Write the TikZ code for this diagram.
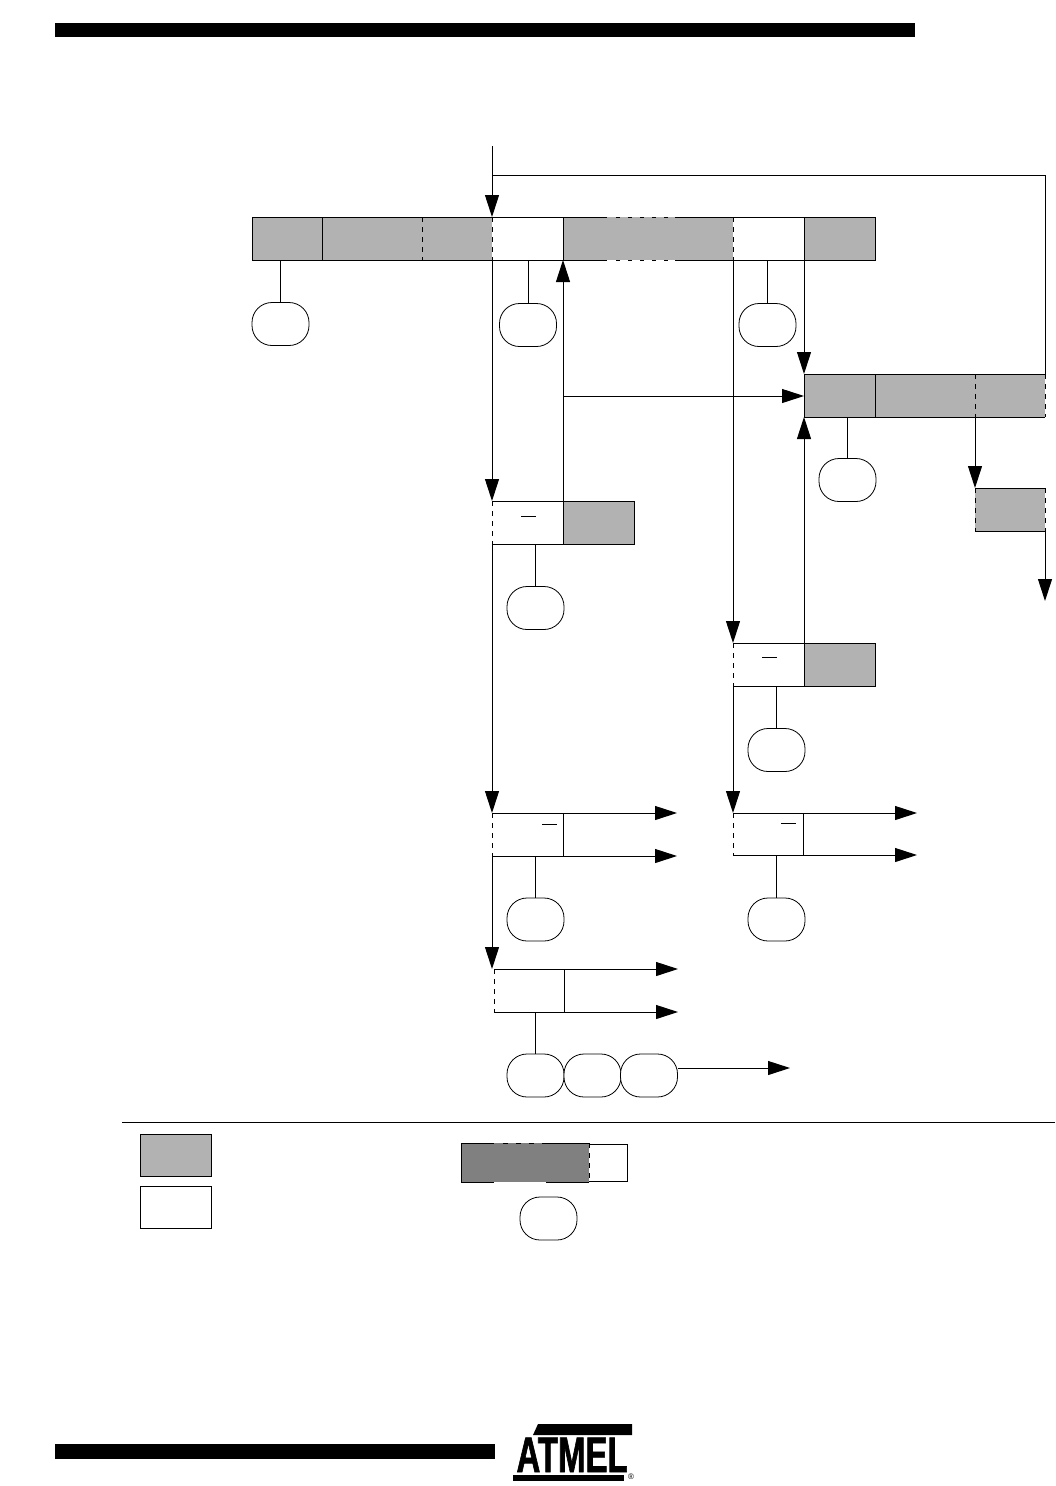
\documentclass[tikz,border=0pt]{standalone}
\usepackage{fontspec}
\setmainfont{Liberation Sans}
\newfontfamily\logofont[FakeBold=1.2,FakeStretch=0.66]{Liberation Sans Bold}
\usetikzlibrary{arrows.meta, positioning}

\definecolor{cellgray}{gray}{0.70}
\definecolor{keygray}{gray}{0.50}

\begin{document}
\begin{tikzpicture}[x=1pt,y=-1pt,line width=1pt,>={Triangle[length=22pt,width=14pt]},
        cell/.style={rectangle,inner sep=0pt,outer sep=0pt,anchor=north west,minimum height=43pt},
        grey/.style={cell,fill=cellgray},
        blank/.style={cell,fill=white},
        field/.style={draw,line width=1pt},
        dashedge/.style={dash pattern=on 5pt off 5pt},
        oval/.style={draw,line width=0.8pt,rectangle,rounded corners=20pt,inner sep=0pt,outer sep=0pt,
            minimum width=57pt,minimum height=43pt,fill=white}]

      \useasboundingbox (0,0) rectangle (1055,1486);

      % page bars
      \node[cell,fill=black,minimum width=860pt,minimum height=14pt] (headbar) at (55,23) {};
      \node[cell,fill=black,minimum width=440pt,minimum height=15pt] (footbar) at (55,1444) {};

      % first row
      \node[grey,field,minimum width=70pt]  (pre1)  at (252,217) {};
      \node[grey,minimum width=100pt]       (pre2)  at (322,217) {};
      \node[grey,minimum width=70pt]        (pre3)  at (422,217) {};
      \node[blank,minimum width=71pt]       (mid1)  at (492,217) {};
      \node[grey,minimum width=170pt]       (mid2)  at (563,217) {};
      \node[blank,minimum width=71pt]       (mid3)  at (733,217) {};
      \node[grey,field,minimum width=71pt]  (post1) at (804,217) {};
      \draw (pre2.south east) -- (pre2.south west) -- (pre2.north west) -- (pre2.north east);
      \draw (pre3.north west) -- (pre3.north east) (pre3.south west) -- (pre3.south east);
      \draw[dashedge] (pre2.north east) -- (pre2.south east);
      \draw[dashedge] (pre3.north east) -- (pre3.south east);
      \draw (mid1.north west) -- (mid1.north east) -- (mid1.south east) -- (mid1.south west);
      \draw (mid3.north west) -- (mid3.north east) -- (mid3.south east) -- (mid3.south west);
      \draw[dashedge] (mid2.north east) -- (mid2.south east);
      \draw (mid2.north west) -- ++(44,0) (mid2.north east) -- ++(-58,0);
      \draw (mid2.south west) -- ++(44,0) (mid2.south east) -- ++(-58,0);
      \draw[dash pattern=on 4pt off 8pt] ([xshift=53pt]mid2.north west) -- ++(52,0);
      \draw[dash pattern=on 4pt off 8pt] ([xshift=53pt]mid2.south west) -- ++(52,0);

      % second row
      \node[grey,field,minimum width=71pt]  (next1) at (804,374) {};
      \node[grey,minimum width=100pt]       (next2) at (875,374) {};
      \node[grey,minimum width=70pt]        (next3) at (975,374) {};
      \draw (next2.north east) -- (next2.north west) -- (next2.south west) -- (next2.south east);
      \draw (next3.north west) -- (next3.north east) (next3.south west) -- (next3.south east);
      \draw[dashedge] (next2.north east) -- (next2.south east);
      \draw[dashedge] (next3.north east) -- (next3.south east);

      \node[grey,minimum width=70pt]        (tail)  at (975,488) {};
      \draw (tail.north west) -- (tail.north east) (tail.south west) -- (tail.south east);
      \draw[dashedge] (tail.north west) -- (tail.south west) (tail.north east) -- (tail.south east);

      % left column
      \node[blank,minimum width=71pt]       (stepa) at (492,501) {};
      \node[grey,field,minimum width=71pt]  (stepb) at (563,501) {};
      \draw (stepa.north west) -- (stepa.north east) (stepa.south west) -- (stepa.south east);
      \draw[dashedge] (stepa.north west) -- (stepa.south west);
      \draw (521,516) -- (536,516);

      \node[blank,minimum width=71pt]       (outa)  at (492,813) {};
      \draw (outa.north west) -- (outa.north east) -- (outa.south east) -- (outa.south west);
      \draw[dashedge] (outa.north west) -- (outa.south west);
      \draw (542,824) -- (557,824);

      \node[blank,minimum width=70pt]       (outc)  at (494,969) {};
      \draw (outc.north west) -- (outc.north east) -- (outc.south east) -- (outc.south west);
      \draw[dashedge] (outc.north west) -- (outc.south west);

      % right column
      \node[blank,minimum width=71pt]       (stepc) at (733,643) {};
      \node[grey,field,minimum width=71pt]  (stepd) at (804,643) {};
      \draw (stepc.north west) -- (stepc.north east) (stepc.south west) -- (stepc.south east);
      \draw[dashedge] (stepc.north west) -- (stepc.south west);
      \draw (762,657) -- (777,657);

      \node[blank,minimum width=70pt,minimum height=42pt] (outb) at (733,813) {};
      \draw (outb.north west) -- (outb.north east) -- (outb.south east) -- (outb.south west);
      \draw[dashedge] (outb.north west) -- (outb.south west);
      \draw (781,823) -- (796,823);

      % ovals
      \node[oval] (o1)  at (280.5,324)  {};
      \node[oval] (o2)  at (528,325)    {};
      \node[oval] (o3)  at (767.5,325)  {};
      \node[oval] (o4)  at (847.5,480)  {};
      \node[oval] (o5)  at (535.5,608)  {};
      \node[oval] (o6)  at (776.5,750)  {};
      \node[oval] (o7)  at (535.5,919.5) {};
      \node[oval] (o8)  at (776.5,919.5) {};
      \node[oval] (o9)  at (535.5,1075.5) {};
      \node[oval] (o10) at (592.5,1075.5) {};
      \node[oval] (o11) at (649,1075.5) {};

      % free ends
      \coordinate (start) at (492,146);
      \coordinate (turn)  at (1045,175);
      \coordinate (fork)  at (492,175);
      \coordinate (tap)   at (563,396);
      \coordinate (out1)  at (677,813);
      \coordinate (out2)  at (677,856);
      \coordinate (out3)  at (917,813);
      \coordinate (out4)  at (917,855);
      \coordinate (out5)  at (678,969);
      \coordinate (out6)  at (678,1012);
      \coordinate (out7)  at (790,1068);
      \coordinate (out8)  at (1045,601);

      % stems
      \draw (pre1.south -| o1.north) -- (o1.north);
      \draw (mid1.south -| o2.north) -- (o2.north);
      \draw (mid3.south -| o3.north) -- (o3.north);
      \draw (next1.south -| o4.north) -- (o4.north);
      \draw (stepa.south -| o5.north) -- (o5.north);
      \draw (stepc.south -| o6.north) -- (o6.north);
      \draw (outa.south -| o7.north) -- (o7.north);
      \draw (outb.south -| o8.north) -- (o8.north);
      \draw (outc.south -| o9.north) -- (o9.north);

      % flow
      \path[->] (start) edge (mid1.north west)
                (mid1.south west) edge (stepa.north west)
                (stepa.south west) edge (outa.north west)
                (outa.south west) edge (outa.south west |- outc.north)
                (stepb.north west) edge (mid2.south west)
                (tap) edge (tap -| next1.west)
                (post1.south west) edge (next1.north west)
                (mid3.south west) edge (stepc.north west)
                (stepc.south west) edge (outb.north west)
                (stepd.north west) edge (next1.south west)
                (next3.south west) edge (tail.north west)
                (tail.south east) edge (out8)
                (outa.north east) edge (out1)
                (outa.south east) edge (out2)
                (outb.north east) edge (out3)
                (outb.south east) edge (out4)
                (outc.north east) edge (out5)
                (outc.south east) edge (out6)
                (o11.east |- out7) edge (out7);
      \draw (fork) -- (turn) -- (next3.north east);

      % key
      \draw (122,1122) -- (1055,1122);
      \node[grey,field,minimum width=71pt,minimum height=42pt]  (keygrey)  at (140,1134) {};
      \node[blank,field,minimum width=71pt,minimum height=42pt] (keyblank) at (140,1186) {};
      \node[cell,fill=keygray,minimum width=128pt,minimum height=39pt] (keydark) at (461,1143) {};
      \node[blank,minimum width=38pt,minimum height=37pt] (keyrest) at (589,1144) {};
      \draw (keydark.north west) -- ++(33,0) (keydark.north east) -- ++(-43,0);
      \draw (keydark.south west) -- ++(33,0) (keydark.south east) -- ++(-43,0);
      \draw[dash pattern=on 5pt off 8pt] ([xshift=42pt]keydark.north west) -- ++(43,0);
      \draw (keydark.north west) -- (keydark.south west);
      \draw[dashedge] (keydark.north east) -- (keydark.south east);
      \draw (keyrest.north west) -- (keyrest.north east) -- (keyrest.south east) -- (keyrest.south west);
      \node[oval] (o12) at (548.5,1218.5) {};

      % logo
      \fill (538,1424) -- (632,1424) -- (632,1435) -- (533,1435) -- cycle;
      \fill (513,1475) -- (624,1475) -- (624,1481) -- (513,1481) -- cycle;
      \node[inner sep=0pt,anchor=base west,font=\logofont\fontsize{50}{50}\selectfont] (logo) at (516,1472) {ATMEL};
      \node[inner sep=0pt,font=\fontsize{8}{8}\selectfont] (logomark) at (631,1477) {®};
\end{tikzpicture}
\end{document}
